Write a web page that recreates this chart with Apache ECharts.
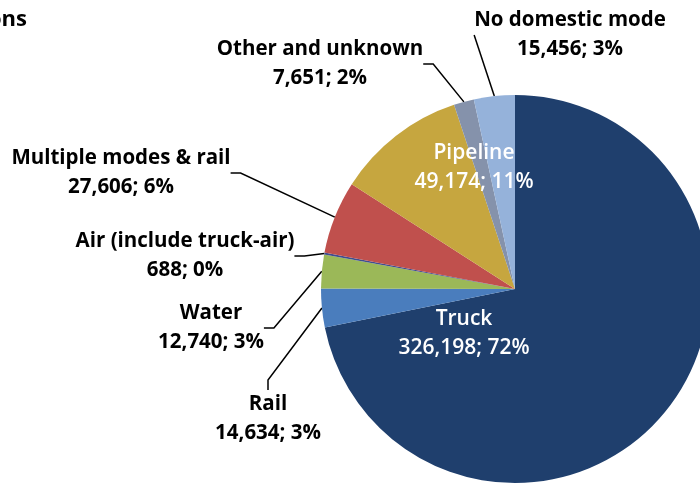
<!DOCTYPE html>
<html>
<head>
<meta charset="utf-8">
<script src="https://cdn.jsdelivr.net/npm/echarts@6/dist/echarts.min.js"></script>
<style>
    html, body { margin: 0; padding: 0; background: #fff; }
    #chart { width: 700px; height: 483px; }
</style>
</head>
<body>
<div id="chart"></div>
<script>
    const modes = ['Truck', 'Rail', 'Water', 'Air (include truck-air)', 'Multiple modes & rail',
        'Pipeline', 'Other and unknown', 'No domestic mode'];
    const tons = [326198, 14634, 12740, 688, 27606, 49174, 7651, 15456];
    const colors = ['#1F3F6D', '#4A7DBD', '#9BB858', '#3F4E8E', '#C0504D', '#C6A63F', '#8592AB', '#95B2DA'];
    // centre of each label block
    const labelSpots = [[464, 334], [268, 419], [211, 328], [185, 256], [121, 173], [474, 168], [320, 64], [570, 35]];
    const insideLabels = ['Truck', 'Pipeline'];

    const chart = echarts.init(document.getElementById('chart'));
    chart.setOption({
        animation: false,
        title: {
            text: 'ons',
            left: -17,
            top: 4,
            textStyle: {fontFamily: 'Open Sans', fontSize: 22, fontWeight: 'bold', color: '#000'}
        },
        series: [{
            type: 'pie',
            center: [515, 289],
            radius: 194,
            startAngle: 90,
            clockwise: true,
            avoidLabelOverlap: false,
            data: modes.map((m, i) => {
                const item = {name: m, value: tons[i], itemStyle: {color: colors[i]}};
                if (insideLabels.includes(m)) {
                    item.label = {color: '#fff', fontWeight: 600, fontSize: 21};
                    item.labelLine = {show: false};
                }
                return item;
            }),
            label: {
                position: 'outside',
                fontFamily: 'Open Sans',
                fontSize: 20.5,
                fontWeight: 'bold',
                lineHeight: 29,
                color: '#000',
                align: 'center',
                formatter: p => p.name + '\n' + echarts.format.addCommas(p.value) + '; ' + Math.round(p.percent) + '%'
            },
            labelLine: {
                show: true,
                length: 10,
                length2: 10,
                lineStyle: {color: '#000', width: 1.5}
            },
            labelLayout: function (params) {
                const p = labelSpots[params.dataIndex];
                return {x: p[0], y: p[1], align: 'center', verticalAlign: 'middle'};
            }
        }]
    });
</script>
</body>
</html>
